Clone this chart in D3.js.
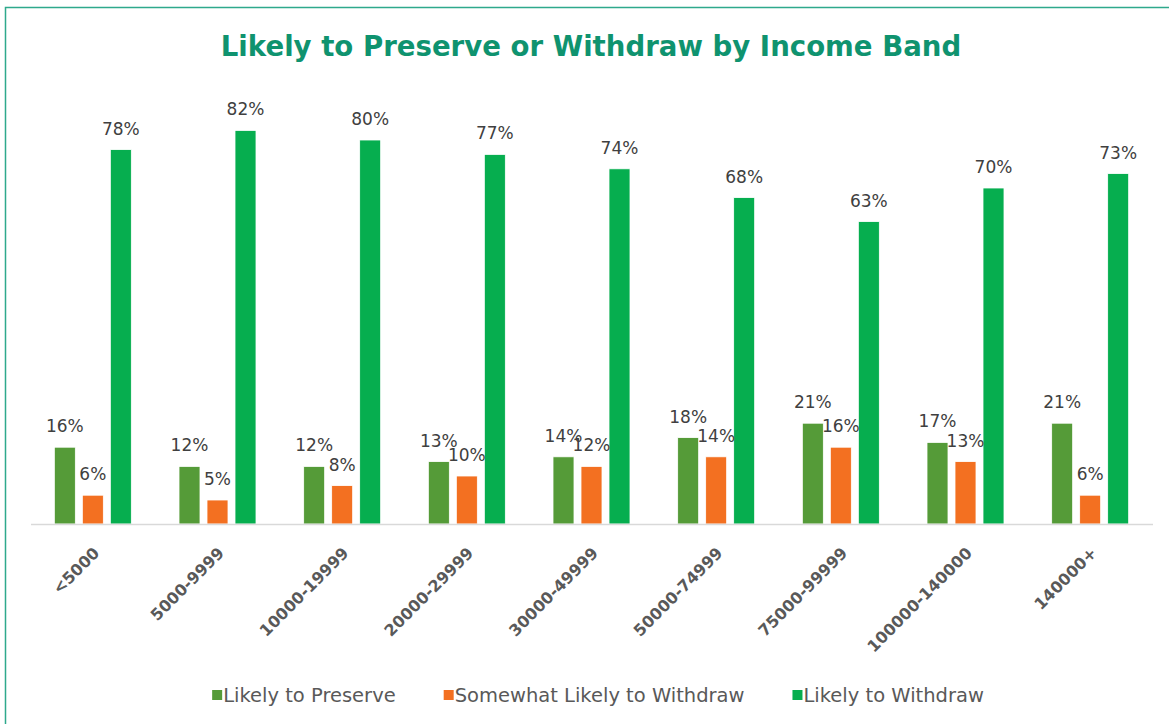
<!DOCTYPE html>
<html>
<head>
<meta charset="utf-8">
<script src="https://cdn.jsdelivr.net/npm/d3@7"></script>
<style>
  html, body { margin: 0; padding: 0; background: #fff; }
  svg { display: block; font-family: "DejaVu Sans", sans-serif; }
</style>
</head>
<body>
<div id="chart"></div>
<script>
const categories = ["<5000", "5000-9999", "10000-19999", "20000-29999", "30000-49999",
  "50000-74999", "75000-99999", "100000-140000", "140000+"];
const seriesNames = ["Likely to Preserve", "Somewhat Likely to Withdraw", "Likely to Withdraw"];
const preserve = [16, 12, 12, 13, 14, 18, 21, 17, 21];
const somewhat = [6, 5, 8, 10, 12, 14, 16, 13, 6];
const withdraw = [78, 82, 80, 77, 74, 68, 63, 70, 73];
const colors = ["#559b38", "#f37021", "#06ae4f"];

const width = 1169, height = 724;
const svg = d3.select("#chart").append("svg")
  .attr("width", width).attr("height", height);

// chart border (only left/top edges are in view)
svg.append("rect")
  .attr("x", 5.5).attr("y", 7.5)
  .attr("width", width + 20).attr("height", height + 20)
  .attr("fill", "none").attr("stroke", "#2ea98c").attr("stroke-width", 1.5);

svg.append("text")
  .attr("x", 591).attr("y", 56)
  .attr("text-anchor", "middle")
  .style("font-size", "27.6px").style("font-weight", "bold")
  .style("fill", "#0f936f")
  .text("Likely to Preserve or Withdraw by Income Band");

const rows = categories.map((c, i) => ({ cat: c, vals: [preserve[i], somewhat[i], withdraw[i]] }));

const x0 = d3.scaleBand().domain(categories).range([31, 1153]);
const x1 = d3.scaleBand().domain(d3.range(3))
  .range([x0.bandwidth() / 2 - 39, x0.bandwidth() / 2 + 38])
  .paddingInner(0.25);
const y = d3.scaleLinear().domain([0, 100]).range([524, 44]);

const groups = svg.selectAll("g.grp").data(rows).enter().append("g")
  .attr("class", "grp")
  .attr("transform", d => `translate(${x0(d.cat)},0)`);

groups.selectAll("rect").data(d => d.vals).enter().append("rect")
  .attr("x", (v, i) => x1(i))
  .attr("y", v => y(v))
  .attr("width", x1.bandwidth())
  .attr("height", v => y(0) - y(v))
  .attr("fill", (v, i) => colors[i])
  .attr("stroke", "#fff").attr("stroke-width", 0.8);

groups.selectAll("text.lbl").data(d => d.vals).enter().append("text")
  .attr("class", "lbl")
  .attr("x", (v, i) => x1(i) + x1.bandwidth() / 2)
  .attr("y", v => y(v) - 15)
  .attr("text-anchor", "middle")
  .style("font-size", "17px").style("fill", "#404040")
  .text(v => v + "%");

// baseline
svg.append("line")
  .attr("x1", 31).attr("x2", 1153)
  .attr("y1", y(0) + 0.5).attr("y2", y(0) + 0.5)
  .attr("stroke", "#d9d9d9").attr("stroke-width", 1.5);

// category labels
svg.selectAll("text.cat").data(categories).enter().append("text")
  .attr("class", "cat")
  .attr("transform", d => `translate(${x0(d) + x0.bandwidth() / 2 - 1},${546}) rotate(-45)`)
  .attr("text-anchor", "end")
  .attr("dy", "0.71em")
  .style("font-size", "16px").style("font-weight", "bold").style("fill", "#595959")
  .text(d => d);

// legend
const legend = svg.append("g");
let lx = 0;
seriesNames.forEach((name, i) => {
  const g = legend.append("g").attr("transform", `translate(${lx},0)`);
  g.append("rect").attr("x", 0).attr("y", -5).attr("width", 10).attr("height", 10)
    .attr("fill", colors[i]);
  const t = g.append("text").attr("x", 11).attr("y", 7)
    .style("font-size", "19.5px").style("fill", "#595959").text(name);
  lx += 11 + t.node().getComputedTextLength() + 48;
});
const legendW = lx - 48;
legend.attr("transform", `translate(${598 - legendW / 2},695)`);
</script>
</body>
</html>
